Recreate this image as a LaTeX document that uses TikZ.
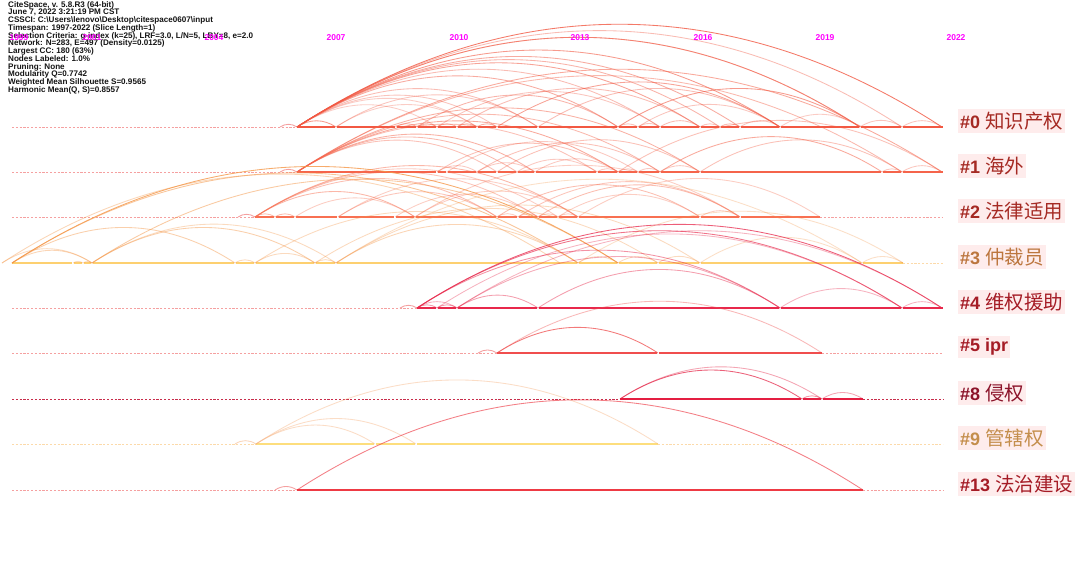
\documentclass[tikz,border=0pt]{standalone}
\usepackage{fontspec}
\setmainfont{Liberation Sans}
\newfontfamily\cjk{Noto Sans CJK SC}
\definecolor{cz}{RGB}{242,88,66}
\definecolor{cone}{RGB}{245,100,75}
\definecolor{ctwo}{RGB}{248,112,82}
\definecolor{cthreeline}{RGB}{253,208,112}
\definecolor{cthreearc}{RGB}{245,150,70}
\definecolor{cfour}{RGB}{232,40,75}
\definecolor{cfive}{RGB}{240,78,78}
\definecolor{ceight}{RGB}{228,30,65}
\definecolor{cnineline}{RGB}{253,222,125}
\definecolor{cninearc}{RGB}{248,180,130}
\definecolor{cthirteen}{RGB}{238,58,68}
\definecolor{dpink}{RGB}{245,160,160}
\definecolor{dyellow}{RGB}{252,218,170}
\definecolor{dcrimson}{RGB}{200,45,75}
\definecolor{lblbg}{RGB}{254,236,236}
\definecolor{ltred}{RGB}{165,42,35}
\definecolor{ltorange}{RGB}{188,118,62}
\definecolor{ltcrimson}{RGB}{165,28,38}
\definecolor{ltdark}{RGB}{140,20,42}
\definecolor{ltgold}{RGB}{196,142,76}
\definecolor{yrmag}{RGB}{255,0,255}
\definecolor{infotext}{RGB}{20,20,20}
\newcommand\rowarcs[3]{\foreach \a/\b/\o in {#3}{\draw[arcline,#2,draw opacity=\o] (\a,-#1) to[bend left=33] (\b,-#1);}}
\newcommand\rowticks[2]{\foreach \x in {#2}{\fill[white] (\x-0.7,-#1-2.5) rectangle (\x+0.7,-#1+2.5);}}
\newcommand\clab[2]{{\bfseries\fontsize{18}{20}\selectfont \##1 }{\cjk\fontsize{19.5}{21}\selectfont #2}}
\begin{document}
\begin{tikzpicture}[x=1pt,y=1pt,
  arcline/.style={line width=0.85pt},
  solidrow/.style={line width=2.5pt},
  dashrow/.style={line width=0.9pt, dash pattern=on 2.2pt off 1.6pt},
  lbl/.style={anchor=west, fill=lblbg, inner xsep=2pt, inner ysep=3pt},
  yr/.style={font=\bfseries\fontsize{8.5}{9}\selectfont, text=yrmag},
]
\fill[white] (0,0) rectangle (1080,-567);
\useasboundingbox (0,0) rectangle (1080,-567);

% ---------- row lines ----------
% row 0
\draw[dashrow,dpink] (12,-127) -- (297,-127);
\draw[solidrow,cz] (297,-127) -- (943,-127);
\rowticks{127}{336,396,417,437,457,477,497,538,618,638,660,700,720,740,780,860,902}
% row 1
\draw[dashrow,dpink] (12,-172) -- (297,-172);
\draw[solidrow,cone] (297,-172) -- (943,-172);
\rowticks{172}{437,447,477,497,517,535,597,618,638,660,700,882,902}
% row 2
\draw[dashrow,dpink] (12,-217) -- (255,-217);
\draw[solidrow,ctwo] (255,-217) -- (820,-217);
\draw[dashrow,dpink] (820,-217) -- (943,-217);
\rowticks{217}{275,295,338,395,415,497,518,538,558,578,700,740}
% row 3
\draw[solidrow,cthreeline,line width=2pt] (12,-263) -- (903,-263);
\draw[dashrow,dyellow] (903,-263) -- (943,-263);
\rowticks{263}{73,83,92,235,255,315,336,578,618,658,700,862}
% row 4
\draw[dashrow,dpink] (12,-308) -- (417,-308);
\draw[solidrow,cfour] (417,-308) -- (943,-308);
\rowticks{308}{437,457,538,780,902}
% row 5
\draw[dashrow,dpink] (12,-353) -- (497,-353);
\draw[solidrow,cfive] (497,-353) -- (822,-353);
\draw[dashrow,dpink] (822,-353) -- (943,-353);
\rowticks{353}{658}
% row 8
\draw[dashrow,dcrimson,line width=0.8pt] (12,-399) -- (620,-399);
\draw[solidrow,ceight] (620,-399) -- (863,-399);
\draw[dashrow,dcrimson,line width=0.8pt] (863,-399) -- (943,-399);
\rowticks{399}{802,822}
% row 9
\draw[dashrow,dyellow] (12,-444) -- (256,-444);
\draw[solidrow,cnineline] (256,-444) -- (658,-444);
\draw[dashrow,dyellow] (658,-444) -- (943,-444);
\rowticks{444}{375,416}
% row 13
\draw[dashrow,dpink] (12,-490) -- (297,-490);
\draw[solidrow,cthirteen] (297,-490) -- (863,-490);
\draw[dashrow,dpink] (863,-490) -- (943,-490);

% ---------- arcs ----------
\rowarcs{127}{dpink}{280/297/1}
\rowarcs{127}{cz}{297/336/.6, 297/942/.8, 297/902/.4, 297/860/.65, 297/860/.3, 297/780/.6, 297/740/.5, 297/720/.45, 297/700/.55, 297/660/.4, 297/618/.5, 297/538/.4, 297/497/.35, 297/477/.3, 297/437/.3, 336/538/.35, 336/477/.3, 396/417/.45, 417/437/.45, 437/457/.45, 457/477/.45, 477/497/.45, 417/618/.45, 437/660/.35, 457/700/.4, 497/780/.55, 538/780/.4, 618/860/.6, 638/780/.35, 660/700/.4, 700/720/.35, 720/740/.4, 740/780/.35, 780/860/.3, 618/638/.35, 638/660/.35, 860/902/.35, 902/942/.35}
\rowarcs{172}{dpink}{280/297/1}
\rowarcs{172}{cone}{297/942/.55, 297/902/.45, 297/700/.5, 297/660/.45, 297/618/.55, 297/597/.4, 297/535/.5, 297/517/.45, 297/497/.4, 437/618/.4, 447/638/.35, 477/660/.4, 497/700/.4, 517/597/.35, 535/618/.35, 477/535/.35, 437/477/.35, 597/618/.35, 618/638/.35, 638/660/.35, 660/700/.35, 660/882/.55, 700/902/.4, 618/942/.4, 882/902/.35, 902/942/.35}
\rowarcs{217}{dpink}{238/255/1}
\rowarcs{217}{ctwo}{255/275/.45, 275/295/.45, 255/415/.5, 255/497/.45, 255/538/.4, 255/578/.5, 255/558/.35, 295/415/.35, 338/497/.4, 338/578/.35, 395/538/.35, 415/578/.35, 497/700/.45, 518/740/.4, 538/740/.45, 558/700/.35, 578/820/.35, 415/740/.35, 497/518/.35, 518/538/.35, 538/558/.35, 558/578/.35, 700/740/.35}
\rowarcs{263}{cthreearc}{12/618/.8, 12/578/.55, 2/560/.4, 12/235/.45, 12/92/.4, 2/92/.35, 73/83/.35, 83/92/.35, 92/315/.45, 92/336/.35, 92/618/.5, 235/255/.35, 255/315/.35, 315/336/.35, 255/578/.35, 336/578/.4, 315/658/.35, 336/700/.35, 578/618/.35, 618/658/.35, 658/700/.35, 336/862/.3, 578/903/.3, 700/862/.3, 862/903/.3}
\rowarcs{308}{dpink}{400/417/1}
\rowarcs{308}{cfour}{417/437/.45, 437/457/.45, 417/457/.35, 457/538/.45, 417/942/.75, 417/902/.65, 417/780/.5, 437/902/.35, 457/780/.4, 538/780/.45, 457/942/.35, 780/902/.35, 902/942/.35}
\rowarcs{353}{dpink}{478/497/1}
\rowarcs{353}{cfive}{497/658/.75, 497/822/.4}
\rowarcs{399}{ceight}{620/802/.7, 620/822/.4, 802/822/.45, 822/863/.4}
\rowarcs{444}{cninearc}{235/256/.55, 256/375/.45, 256/416/.45, 256/658/.45}
\rowarcs{490}{dpink}{275/297/1}
\rowarcs{490}{cthirteen}{297/863/.65}

% ---------- header text ----------
\node[anchor=north west, align=left, inner sep=0pt, text=infotext, font=\bfseries\fontsize{8.1}{7.75}\selectfont] (info) at (8,-1) {CiteSpace, v. 5.8.R3 (64-bit)\\
June 7, 2022 3:21:19 PM CST\\
CSSCI: C:\textbackslash Users\textbackslash lenovo\textbackslash Desktop\textbackslash citespace0607\textbackslash input\\
Timespan: 1997-2022 (Slice Length=1)\\
Selection Criteria: g-index (k=25), LRF=3.0, L/N=5, LBY=8, e=2.0\\
Network: N=283, E=497 (Density=0.0125)\\
Largest CC: 180 (63\%)\\
Nodes Labeled: 1.0\%\\
Pruning: None\\
Modularity Q=0.7742\\
Weighted Mean Silhouette S=0.9565\\
Harmonic Mean(Q, S)=0.8557};

\node[yr] (y1999) at (19,-38) {1999};
\node[yr] (y2001) at (92,-38) {2001};
\node[yr] (y2004) at (214,-38) {2004};
\node[yr] (y2007) at (336,-38) {2007};
\node[yr] (y2010) at (459,-38) {2010};
\node[yr] (y2013) at (580,-38) {2013};
\node[yr] (y2016) at (703,-38) {2016};
\node[yr] (y2019) at (825,-38) {2019};
\node[yr] (y2022) at (956,-38) {2022};

% ---------- cluster labels ----------
\node[lbl, text=ltred] (l0) at (958,-121) {\clab{0}{知识产权}};
\node[lbl, text=ltred] (l1) at (958,-166) {\clab{1}{海外}};
\node[lbl, text=ltred] (l2) at (958,-211) {\clab{2}{法律适用}};
\node[lbl, text=ltorange] (l3) at (958,-257) {\clab{3}{仲裁员}};
\node[lbl, text=ltcrimson] (l4) at (958,-302) {\clab{4}{维权援助}};
\node[lbl, text=ltcrimson] (l5) at (958,-347) {{\bfseries\fontsize{18}{20}\selectfont \#5 ipr}};
\node[lbl, text=ltdark] (l8) at (958,-393) {\clab{8}{侵权}};
\node[lbl, text=ltgold] (l9) at (958,-438) {\clab{9}{管辖权}};
\node[lbl, text=ltcrimson] (l13) at (958,-484) {\clab{13}{法治建设}};
\end{tikzpicture}
\end{document}
